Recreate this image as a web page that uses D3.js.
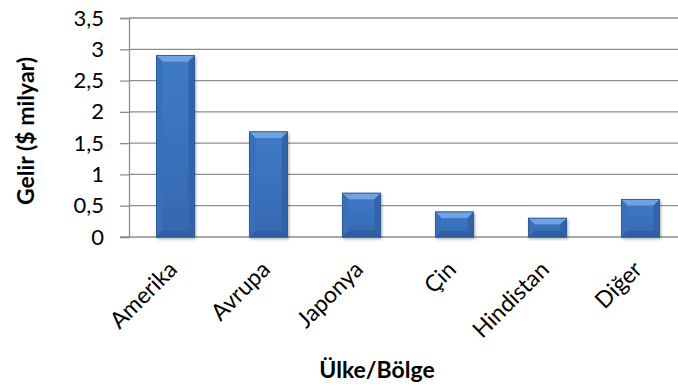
<!DOCTYPE html>
<html>
<head>
<meta charset="utf-8">
<script src="https://cdn.jsdelivr.net/npm/d3@7"></script>
<style>
  body { margin: 0; background: #fff; }
  text { font-family: Lato, "Open Sans", sans-serif; fill: #000; }
</style>
</head>
<body>
<div id="chart"></div>
<script>
const categories = ["Amerika", "Avrupa", "Japonya", "Çin", "Hindistan", "Diğer"];
const revenue = [2.9, 1.68, 0.7, 0.4, 0.3, 0.6];
const yTicks = [0, 0.5, 1, 1.5, 2, 2.5, 3, 3.5];

const W = 678, H = 390;
const margin = { top: 18, right: -9, bottom: 153, left: 129 };
const width = W - margin.left - margin.right,
  height = H - margin.top - margin.bottom;

const svg = d3.select("#chart").append("svg")
  .attr("width", W).attr("height", H);

const defs = svg.append("defs");
const grad = defs.append("linearGradient").attr("id", "bar-body")
  .attr("x1", "0%").attr("x2", "0%").attr("y1", "0%").attr("y2", "100%");
grad.append("stop").attr("offset", "0%").attr("stop-color", "#3f7bc8");
grad.append("stop").attr("offset", "100%").attr("stop-color", "#3568b0");

const shadow = defs.append("filter").attr("id", "shadow")
  .attr("x", "-20%").attr("y", "-20%").attr("width", "140%").attr("height", "140%");
shadow.append("feDropShadow").attr("dx", 1).attr("dy", 1.5)
  .attr("stdDeviation", 1.5).attr("flood-color", "#000").attr("flood-opacity", 0.35);

const g = svg.append("g").attr("transform", `translate(${margin.left},${margin.top})`);

const x = d3.scaleBand().domain(categories).range([0, width]).paddingInner(0.59).paddingOuter(0.295);
const y = d3.scaleLinear().domain([0, 3.5]).range([height, 0]);

// gridlines
g.append("g")
  .selectAll("line").data(yTicks.slice(1)).join("line")
  .attr("x1", 0).attr("x2", width)
  .attr("y1", d => y(d)).attr("y2", d => y(d))
  .attr("stroke", "#8e8e8e").attr("stroke-width", 1.3);

// y axis
const yAxis = g.append("g")
  .call(d3.axisLeft(y).tickValues(yTicks).tickSize(9).tickPadding(16)
    .tickFormat(d => String(d).replace(".", ",")));
yAxis.select(".domain").attr("stroke", "#8e8e8e").attr("stroke-width", 1.3);
yAxis.selectAll(".tick line").attr("stroke", "#8e8e8e").attr("stroke-width", 1.3);
yAxis.selectAll(".tick text").attr("font-size", 22);

// x baseline
g.append("line")
  .attr("x1", -9).attr("x2", width)
  .attr("y1", y(0)).attr("y2", y(0))
  .attr("stroke", "#8e8e8e").attr("stroke-width", 1.3);

// bars with bevel
const bw = x.bandwidth();
const bev = 6;
const bars = g.selectAll(".bar").data(categories.map((c, i) => ({ c, v: revenue[i] })))
  .join("g").attr("class", "bar")
  .attr("transform", d => `translate(${x(d.c)},${y(d.v)})`);

bars.append("rect")
  .attr("width", bw).attr("height", d => y(0) - y(d.v))
  .attr("fill", "url(#bar-body)").attr("stroke", "#2f5a93").attr("stroke-width", 0.8)
  .attr("filter", "url(#shadow)");

bars.each(function (d) {
  const h = y(0) - y(d.v);
  const b = Math.min(bev, h / 2);
  const s = d3.select(this);
  s.append("polygon").attr("points", `0,0 ${bw},0 ${bw - b},${b} ${b},${b}`).attr("fill", "#6ea2e2");
  s.append("polygon").attr("points", `0,0 ${b},${b} ${b},${h - b} 0,${h}`).attr("fill", "#3a70b9");
  s.append("polygon").attr("points", `${bw},0 ${bw},${h} ${bw - b},${h - b} ${bw - b},${b}`).attr("fill", "#3163a8");
  s.append("polygon").attr("points", `0,${h} ${bw},${h} ${bw - b},${h - b} ${b},${h - b}`).attr("fill", "#2e5e9f");
  s.append("rect").attr("width", bw).attr("height", h)
    .attr("fill", "none").attr("stroke", "#2f5a93").attr("stroke-width", 0.8);
});

// x labels
g.append("g").selectAll("text").data(categories).join("text")
  .attr("font-size", 23)
  .attr("text-anchor", "end")
  .attr("transform", d => `translate(${x(d) + bw / 2 + 3},${height + 34}) rotate(-45)`)
  .text(d => d);

// titles
svg.append("text")
  .attr("transform", `translate(34,131) rotate(-90)`)
  .attr("text-anchor", "middle").attr("font-size", 23).attr("font-weight", "bold")
  .text("Gelir ($ milyar)");

svg.append("text")
  .attr("x", 377).attr("y", 378)
  .attr("text-anchor", "middle").attr("font-size", 23).attr("font-weight", "bold")
  .text("Ülke/Bölge");
</script>
</body>
</html>
